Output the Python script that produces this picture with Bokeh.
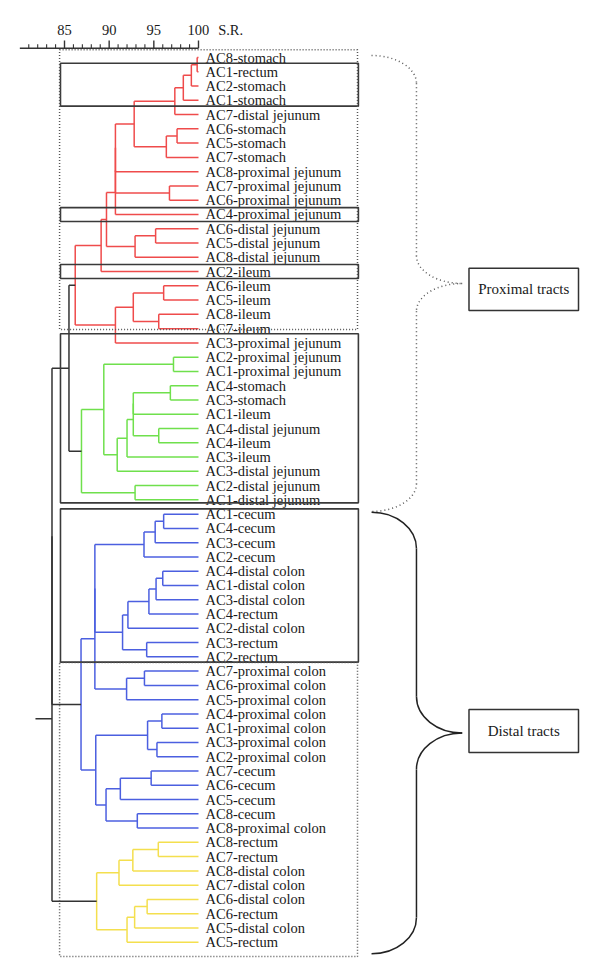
from bokeh.plotting import figure
from bokeh.models import Range1d
from bokeh.core.properties import value
from bokeh.embed import file_html
from bokeh.resources import INLINE

# ---------------- data ----------------
leaves = [
    "AC8-stomach", "AC1-rectum", "AC2-stomach", "AC1-stomach", "AC7-distal jejunum",
    "AC6-stomach", "AC5-stomach", "AC7-stomach", "AC8-proximal jejunum",
    "AC7-proximal jejunum", "AC6-proximal jejunum", "AC4-proximal jejunum",
    "AC6-distal jejunum", "AC5-distal jejunum", "AC8-distal jejunum", "AC2-ileum",
    "AC6-ileum", "AC5-ileum", "AC8-ileum", "AC7-ileum", "AC3-proximal jejunum",
    "AC2-proximal jejunum", "AC1-proximal jejunum", "AC4-stomach", "AC3-stomach",
    "AC1-ileum", "AC4-distal jejunum", "AC4-ileum", "AC3-ileum", "AC3-distal jejunum",
    "AC2-distal jejunum", "AC1-distal jejunum",
    "AC1-cecum", "AC4-cecum", "AC3-cecum", "AC2-cecum", "AC4-distal colon",
    "AC1-distal colon", "AC3-distal colon", "AC4-rectum", "AC2-distal colon",
    "AC3-rectum", "AC2-rectum", "AC7-proximal colon", "AC6-proximal colon",
    "AC5-proximal colon", "AC4-proximal colon", "AC1-proximal colon",
    "AC3-proximal colon", "AC2-proximal colon", "AC7-cecum", "AC6-cecum", "AC5-cecum",
    "AC8-cecum", "AC8-proximal colon",
    "AC8-rectum", "AC7-rectum", "AC8-distal colon", "AC7-distal colon",
    "AC6-distal colon", "AC6-rectum", "AC5-distal colon", "AC5-rectum",
]

# merges: (node, child a, child b, similarity S.R.)
red_merges = [
    ("r1", "AC8-stomach", "AC1-rectum", 99.85),
    ("r2", "r1", "AC2-stomach", 99.2),
    ("r3", "r2", "AC1-stomach", 98.3),
    ("r4", "r3", "AC7-distal jejunum", 97.35),
    ("r5", "AC6-stomach", "AC5-stomach", 97.6),
    ("r6", "r5", "AC7-stomach", 96.4),
    ("r7", "r4", "r6", 92.8),
    ("r8", "r7", "AC8-proximal jejunum", 90.7),
    ("r9", "AC7-proximal jejunum", "AC6-proximal jejunum", 96.75),
    ("r10", "r8", "r9", 90.7),
    ("r11", "r10", "AC4-proximal jejunum", 90.7),
    ("r12", "AC6-distal jejunum", "AC5-distal jejunum", 95.2),
    ("r13", "r12", "AC8-distal jejunum", 92.9),
    ("r14", "r11", "r13", 89.7),
    ("r15", "r14", "AC2-ileum", 89.1),
    ("r16", "AC6-ileum", "AC5-ileum", 96.1),
    ("r17", "AC8-ileum", "AC7-ileum", 95.55),
    ("r18", "r16", "r17", 92.7),
    ("r19", "r18", "AC3-proximal jejunum", 90.7),
    ("r20", "r15", "r19", 86.2),
]
green_merges = [
    ("g1", "AC2-proximal jejunum", "AC1-proximal jejunum", 97.2),
    ("g2", "AC4-stomach", "AC3-stomach", 96.85),
    ("g3", "AC4-distal jejunum", "AC4-ileum", 95.55),
    ("g4", "g2", "AC1-ileum", 92.7),
    ("g5", "g4", "g3", 92.7),
    ("g6", "g5", "AC3-ileum", 92.0),
    ("g7", "g6", "AC3-distal jejunum", 90.9),
    ("g8", "g1", "g7", 89.4),
    ("g9", "AC2-distal jejunum", "AC1-distal jejunum", 92.9),
    ("g10", "g8", "g9", 86.9),
]
blue_merges = [
    ("b1", "AC1-cecum", "AC4-cecum", 96.1),
    ("b2", "b1", "AC3-cecum", 95.15),
    ("b3", "b2", "AC2-cecum", 93.9),
    ("b4", "AC4-distal colon", "AC1-distal colon", 96.0),
    ("b5", "b4", "AC3-distal colon", 95.25),
    ("b6", "b5", "AC4-rectum", 94.45),
    ("b7", "b6", "AC2-distal colon", 92.1),
    ("b8", "AC3-rectum", "AC2-rectum", 94.2),
    ("b9", "b7", "b8", 91.5),
    ("b10", "b3", "b9", 88.4),
    ("b11", "AC7-proximal colon", "AC6-proximal colon", 93.95),
    ("b12", "b11", "AC5-proximal colon", 91.95),
    ("b13", "b10", "b12", 88.4),
    ("b14", "AC4-proximal colon", "AC1-proximal colon", 95.9),
    ("b15", "AC3-proximal colon", "AC2-proximal colon", 95.35),
    ("b16", "b14", "b15", 94.3),
    ("b17", "AC7-cecum", "AC6-cecum", 94.7),
    ("b18", "b17", "AC5-cecum", 91.25),
    ("b19", "AC8-cecum", "AC8-proximal colon", 93.15),
    ("b20", "b18", "b19", 89.65),
    ("b21", "b16", "b20", 88.5),
    ("b22", "b13", "b21", 86.85),
]
yellow_merges = [
    ("y1", "AC8-rectum", "AC7-rectum", 95.5),
    ("y2", "y1", "AC8-distal colon", 92.65),
    ("y3", "y2", "AC7-distal colon", 91.1),
    ("y4", "AC6-distal colon", "AC6-rectum", 94.25),
    ("y5", "y4", "AC5-distal colon", 92.85),
    ("y6", "y5", "AC5-rectum", 92.0),
    ("y7", "y3", "y6", 88.6),
]
black_merges = [
    ("k1", "r20", "g10", 85.5),
    ("k2", "k1", "b22", 83.6),
    ("k3", "k2", "y7", 83.6),
]
root_stub_sr = 81.75

major_ticks = [85, 90, 95, 100]
major_labels = ["85", "90", "95", "100"]
minor_ticks = [t for t in range(81, 100) if t not in (85, 90, 95)]
axis_start, axis_end = 80, 100
axis_title = "S.R."

group_colors = {
    "red": "#ef4b4b",
    "green": "#6fe04c",
    "blue": "#4b5fe0",
    "yellow": "#f4df4e",
    "black": "#333333",
}

# ---------------- figure ----------------
W, H = 600, 977
p = figure(width=W, height=H, output_backend="svg", toolbar_location=None,
           x_range=Range1d(77.8355, 145.0015), y_range=Range1d(64.471, -3.9944),
           x_axis_location=None, y_axis_location=None,
           min_border=0)
p.outline_line_color = None
p.grid.visible = False
p.background_fill_color = "white"

FONT = value("Liberation Serif")
TXT = "#1a1a1a"

# ---------------- S.R. scale (top) ----------------
ay = -0.652          # scale line level (leaf units)
maj_len, min_len = 0.54, 0.27
p.segment(x0=[axis_start], y0=[ay], x1=[axis_end], y1=[ay],
          line_color="#333333", line_width=1.5)
p.segment(x0=major_ticks, y0=[ay] * len(major_ticks), x1=major_ticks,
          y1=[ay - maj_len] * len(major_ticks), line_color="#333333", line_width=1.4)
p.segment(x0=minor_ticks, y0=[ay] * len(minor_ticks), x1=minor_ticks,
          y1=[ay - min_len] * len(minor_ticks), line_color="#333333", line_width=1.1)
p.text(x=major_ticks, y=[-1.96] * len(major_ticks), text=major_labels,
       text_font=FONT, text_font_size="14.5px", text_align="center",
       text_baseline="middle", text_color=TXT)
p.text(x=[102.2], y=[-1.96], text=[axis_title], text_font=FONT,
       text_font_size="14.5px", text_align="left", text_baseline="middle",
       text_color=TXT)

# ---------------- dendrogram ----------------
pos = {name: (100.0, float(i)) for i, name in enumerate(leaves)}
segs = {c: dict(x0=[], y0=[], x1=[], y1=[]) for c in group_colors}

def add(c, xa, ya, xb, yb):
    s = segs[c]
    s["x0"].append(xa); s["y0"].append(ya); s["x1"].append(xb); s["y1"].append(yb)

for grp, merges in [("red", red_merges), ("green", green_merges), ("blue", blue_merges),
                    ("yellow", yellow_merges), ("black", black_merges)]:
    for node, a, b, sr in merges:
        xa, ya = pos[a]
        xb, yb = pos[b]
        add(grp, sr, ya, sr, yb)
        add(grp, sr, ya, xa, ya)
        add(grp, sr, yb, xb, yb)
        pos[node] = (sr, (ya + yb) / 2.0)

rx, ry = pos["k3"]
add("black", root_stub_sr, ry, rx, ry)

for c, s in segs.items():
    p.segment(x0=s["x0"], y0=s["y0"], x1=s["x1"], y1=s["y1"],
              line_color=group_colors[c], line_width=1.5)

p.text(x=[100.0] * len(leaves), y=list(range(len(leaves))), text=leaves,
       x_offset=7, text_font=FONT, text_font_size="14.5px",
       text_baseline="middle", text_align="left", text_color=TXT)

# ---------------- boxes ----------------
box_left, box_right = 84.55, 117.9
solid_top = [0.40, 10.52, 14.51, 19.36, 31.63]
solid_bot = [3.41, 11.49, 15.49, 31.21, 42.37]
p.quad(left=box_left, right=box_right, top=solid_top, bottom=solid_bot,
       fill_color=None, line_color="#3a3a3a", line_width=1.6)

dot_top = [-0.54, 42.40]
dot_bot = [19.06, 63.0]
p.quad(left=84.45, right=117.8, top=dot_top, bottom=dot_bot,
       fill_color=None, line_color="#555555", line_width=1.5, line_dash="1 2")

# ---------------- braces ----------------
bx0, bxm, bxt = 119.37, 124.40, 129.52
brace_top = [-0.14, 31.86]
brace_bot = [31.81, 62.81]
brace_r = [1.95, 2.55]
brace_dash = ["1 3", "solid"]
brace_col = ["#555555", "#222222"]
k = 0.5523
for yt, yb, r, dsh, col in zip(brace_top, brace_bot, brace_r, brace_dash, brace_col):
    ym = (yt + yb) / 2.0
    bz = dict(x0=[bx0, bxm, bxt, bxm], y0=[yt, ym - r, ym, yb - r],
              x1=[bxm, bxt, bxm, bx0], y1=[yt + r, ym, ym + r, yb],
              cx0=[bx0 + k * (bxm - bx0), bxm, bxt - k * (bxt - bxm), bxm],
              cy0=[yt, ym - r + k * r, ym, yb - r + k * r],
              cx1=[bxm, bxt - k * (bxt - bxm), bxm, bx0 + k * (bxm - bx0)],
              cy1=[yt + r - k * r, ym, ym + r - k * r, yb])
    p.bezier(**bz, line_color=col, line_width=1.5, line_dash=dsh)
    p.segment(x0=[bxm, bxm], y0=[yt + r, ym + r], x1=[bxm, bxm], y1=[ym - r, yb - r],
              line_color=col, line_width=1.5, line_dash=dsh)

# ---------------- tract labels ----------------
tract_names = ["Proximal tracts", "Distal tracts"]
tract_top = [14.77, 45.69]
tract_bot = [17.73, 48.70]
p.quad(left=130.28, right=142.54, top=tract_top, bottom=tract_bot,
       fill_color="white", line_color="#333333", line_width=1.5)
p.text(x=[136.41, 136.41], y=[(a + b) / 2 for a, b in zip(tract_top, tract_bot)],
       text=tract_names, text_font=FONT, text_font_size="15px",
       text_align="center", text_baseline="middle", text_color=TXT)

open("out.html", "w").write(file_html(p, INLINE))
